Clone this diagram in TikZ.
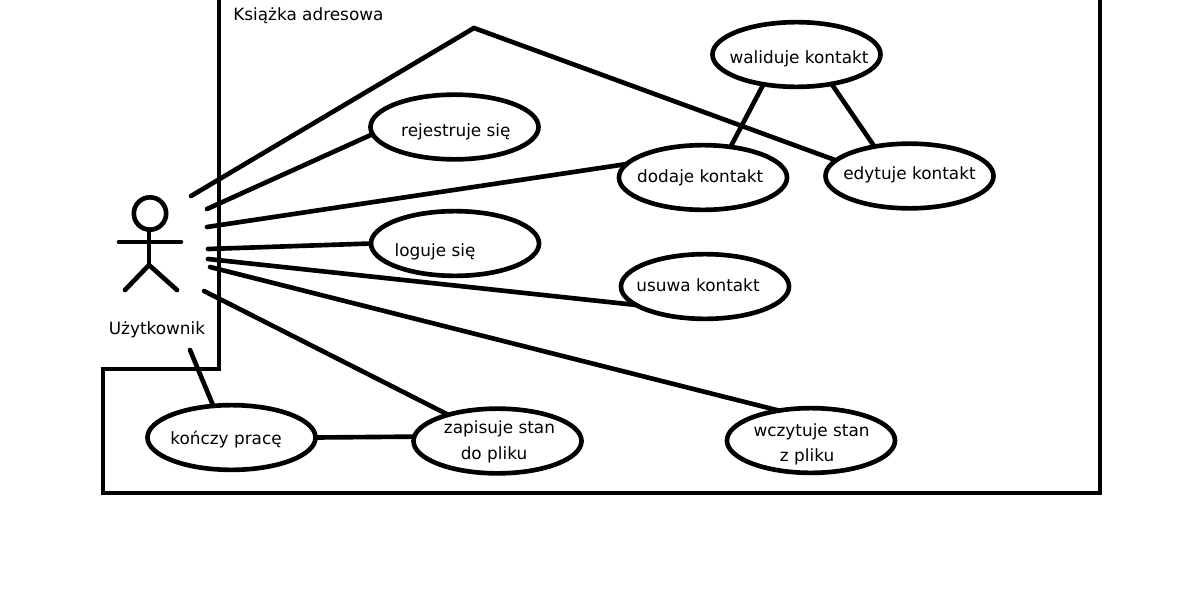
\documentclass[tikz,border=0pt]{standalone}
\usepackage{fontspec}
\setmainfont{DejaVu Sans}
\usetikzlibrary{shapes.geometric}

% zero-size text line inside an ellipse: shift right, raise, text
\newcommand{\uctext}[3]{\hspace*{#1}\raisebox{#2}[0pt][0pt]{\makebox[0pt]{#3}}\hspace*{-#1}}

\tikzset{
    usecase/.style={draw,ellipse,line width=3.3pt,minimum width=119.5pt,minimum height=46pt,
        inner sep=0pt,outer sep=0pt,font=\fontsize{12}{14}\selectfont},
    assoc/.style={line width=3.3pt,line cap=round},
    caption/.style={inner sep=0pt,font=\fontsize{12}{14}\selectfont}
}

\begin{document}
\begin{tikzpicture}[x=0.025cm,y=-0.025cm]
        \useasboundingbox (0,0) rectangle (1182,592);

        % -- System frame: open at the top edge --
        \draw[line width=2.2pt,line join=miter] (219,0) -- (219,369) -- (103,369)
            -- (103,493) -- (1100,493) -- (1100,0);
        \node[caption,anchor=base west] (title) at (233,20) {Książka adresowa};

        % -- Actor --
        \node[draw,circle,line width=3.3pt,minimum size=23pt,inner sep=0pt,outer sep=0pt] (head) at (150,213.5) {};
        \coordinate (hip) at (149,265);
        \coordinate (armL) at (119,242);
        \coordinate (armR) at (181,242);
        \coordinate (footL) at (125,290);
        \coordinate (footR) at (177,290);
        \draw[assoc] (head.south -| hip) -- (hip);
        \draw[assoc] (armL) -- (armR);
        \draw[assoc] (footL) -- (hip) -- (footR);
        \node[caption] (actor) at (157,330) {Użytkownik};

        % -- Use cases --
        \node[usecase] (rej) at (454.5,127) {\uctext{1pt}{-7pt}{rejestruje się}};
        \node[usecase] (log) at (455,243.5) {\uctext{-14.2pt}{-8.9pt}{loguje się}};
        \node[usecase] (dod) at (703,177.5) {\uctext{-2pt}{-3.2pt}{dodaje kontakt}};
        \node[usecase] (usu) at (705,286.5) {\uctext{-5pt}{-3.9pt}{usuwa kontakt}};
        \node[usecase] (wal) at (796.5,54.5) {\uctext{1.8pt}{-6.7pt}{waliduje kontakt}};
        \node[usecase] (edy) at (909.5,176) {\uctext{0pt}{-2.8pt}{edytuje kontakt}};
        \node[usecase] (kon) at (231.5,437.5) {\uctext{-3.9pt}{-5.3pt}{kończy pracę}};
        \node[usecase] (zap) at (497.5,441) {\uctext{1.4pt}{5pt}{zapisuje stan}\uctext{-2.5pt}{-13.5pt}{do pliku}};
        \node[usecase] (wcz) at (811,440.5) {\uctext{0.4pt}{3.2pt}{wczytuje stan}\uctext{-2.8pt}{-15.2pt}{z pliku}};

        % -- Free ends of the lines next to the actor --
        \coordinate (a1) at (191,196);
        \coordinate (a2) at (207,209);
        \coordinate (a3) at (207,227);
        \coordinate (a4) at (208,249);
        \coordinate (a5) at (208,259);
        \coordinate (a6) at (210,267);
        \coordinate (a7) at (204,291);
        \coordinate (a8) at (190,350);
        \coordinate (peak) at (474,28);

        \draw[assoc,line join=miter] (a1) -- (peak) -- (edy.168);
        \foreach \from/\to in {a2/rej.185,a3/dod.170,a4/log.west,a5/usu.195,
                               a6/wcz.137,a7/zap.152,a8/kon.120}
            \draw[assoc] (\from) -- (\to);

        % -- Links between use cases --
        \draw[assoc] (kon.east) -- (zap.177);
        \draw[assoc] (wal.222) -- (dod.48);
        \draw[assoc] (wal.320) -- (edy.140);
\end{tikzpicture}
\end{document}
